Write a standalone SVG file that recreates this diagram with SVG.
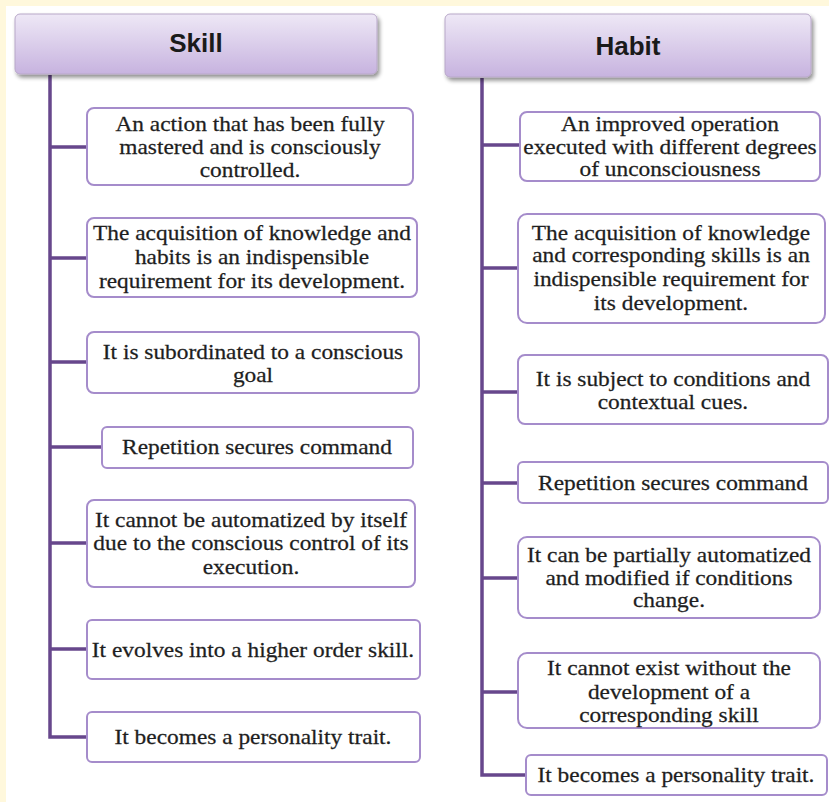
<svg xmlns="http://www.w3.org/2000/svg" width="829" height="802" viewBox="0 0 829 802">
<defs>
<linearGradient id="hg" x1="0" y1="0" x2="0" y2="1">
<stop offset="0" stop-color="#eee8f6"/>
<stop offset="1" stop-color="#c7b3df"/>
</linearGradient>
<filter id="sh" x="-5%" y="-20%" width="115%" height="160%">
<feGaussianBlur in="SourceAlpha" stdDeviation="2"/>
<feOffset dx="2" dy="3"/>
<feComponentTransfer><feFuncA type="linear" slope="0.45"/></feComponentTransfer>
<feMerge><feMergeNode/><feMergeNode in="SourceGraphic"/></feMerge>
</filter>
</defs>
<style>
.hdr{fill:url(#hg);stroke:#b8a8c8;stroke-width:1;filter:url(#sh)}
.ht{font-family:'Liberation Sans',Arial,sans-serif;font-weight:bold;font-size:26px;fill:#1a1a1a;text-anchor:middle}
.box{fill:#ffffff;stroke:#a58ccb;stroke-width:2}
.t{font-family:'Liberation Serif','Times New Roman',serif;font-size:20.5px;fill:#1e1e1e;stroke:#1e1e1e;stroke-width:0.25;text-anchor:middle;transform-box:fill-box;transform-origin:center;transform:scaleX(1.14)}
.ln{stroke:#67478c;stroke-width:3.5;fill:none}
</style>
<rect x="0" y="0" width="829" height="802" fill="#fff8dc"/>
<rect x="6" y="6" width="823" height="796" fill="#ffffff"/>

<g id="connectors">
<path class="ln" d="M50,75 V737 H87"/>
<path class="ln" d="M50,147 H87 M50,258 H87 M50,362 H87 M50,447 H102 M50,543 H87 M50,649 H87"/>
<path class="ln" d="M482,78 V775 H526"/>
<path class="ln" d="M482,145 H520 M482,268 H518 M482,392 H518 M482,483 H518 M482,578 H518 M482,692 H518"/>
</g>

<g id="skill">
<rect class="hdr" x="15" y="14" width="362" height="60" rx="5"/>
<text class="ht" x="196" y="52">Skill</text>
</g>
<g id="habit">
<rect class="hdr" x="445" y="14" width="366" height="63" rx="5"/>
<text class="ht" x="628" y="55">Habit</text>
</g>

<g id="s1">
<rect class="box" x="87" y="108" width="326" height="77" rx="7"/>
<text class="t" x="250" y="131">An action that has been fully</text>
<text class="t" x="250" y="154">mastered and is consciously</text>
<text class="t" x="250" y="177">controlled.</text>
</g>
<g id="s2">
<rect class="box" x="87" y="218" width="330" height="79" rx="7"/>
<text class="t" x="252" y="240">The acquisition of knowledge and</text>
<text class="t" x="252" y="264">habits is an indispensible</text>
<text class="t" x="252" y="288">requirement for its development.</text>
</g>
<g id="s3">
<rect class="box" x="87" y="332" width="332" height="61" rx="7"/>
<text class="t" x="253" y="359">It is subordinated to a conscious</text>
<text class="t" x="253" y="382">goal</text>
</g>
<g id="s4">
<rect class="box" x="102" y="427" width="311" height="41" rx="5"/>
<text class="t" x="257" y="454">Repetition secures command</text>
</g>
<g id="s5">
<rect class="box" x="87" y="500" width="328" height="87" rx="7"/>
<text class="t" x="251" y="527">It cannot be automatized by itself</text>
<text class="t" x="251" y="550">due to the conscious control of its</text>
<text class="t" x="251" y="574">execution.</text>
</g>
<g id="s6">
<rect class="box" x="87" y="620" width="333" height="59" rx="5"/>
<text class="t" x="253" y="657">It evolves into a higher order skill.</text>
</g>
<g id="s7">
<rect class="box" x="87" y="712" width="333" height="50" rx="5"/>
<text class="t" x="253" y="744">It becomes a personality trait.</text>
</g>

<g id="h1">
<rect class="box" x="520" y="112" width="300" height="69" rx="7"/>
<text class="t" x="670" y="131">An improved operation</text>
<text class="t" x="670" y="154">executed with different degrees</text>
<text class="t" x="670" y="176">of unconsciousness</text>
</g>
<g id="h2">
<rect class="box" x="518" y="214" width="307" height="109" rx="9"/>
<text class="t" x="671" y="240">The acquisition of knowledge</text>
<text class="t" x="671" y="262">and corresponding skills is an</text>
<text class="t" x="671" y="286">indispensible requirement for</text>
<text class="t" x="671" y="310">its development.</text>
</g>
<g id="h3">
<rect class="box" x="518" y="355" width="310" height="69" rx="7"/>
<text class="t" x="673" y="386">It is subject to conditions and</text>
<text class="t" x="673" y="409">contextual cues.</text>
</g>
<g id="h4">
<rect class="box" x="518" y="462" width="310" height="41" rx="5"/>
<text class="t" x="673" y="490">Repetition secures command</text>
</g>
<g id="h5">
<rect class="box" x="518" y="537" width="302" height="81" rx="9"/>
<text class="t" x="669" y="562">It can be partially automatized</text>
<text class="t" x="669" y="585">and modified if conditions</text>
<text class="t" x="669" y="607">change.</text>
</g>
<g id="h6">
<rect class="box" x="518" y="653" width="302" height="75" rx="9"/>
<text class="t" x="669" y="675">It cannot exist without the</text>
<text class="t" x="669" y="699">development of a</text>
<text class="t" x="669" y="722">corresponding skill</text>
</g>
<g id="h7">
<rect class="box" x="526" y="755" width="301" height="40" rx="5"/>
<text class="t" x="676" y="782">It becomes a personality trait.</text>
</g>
</svg>
